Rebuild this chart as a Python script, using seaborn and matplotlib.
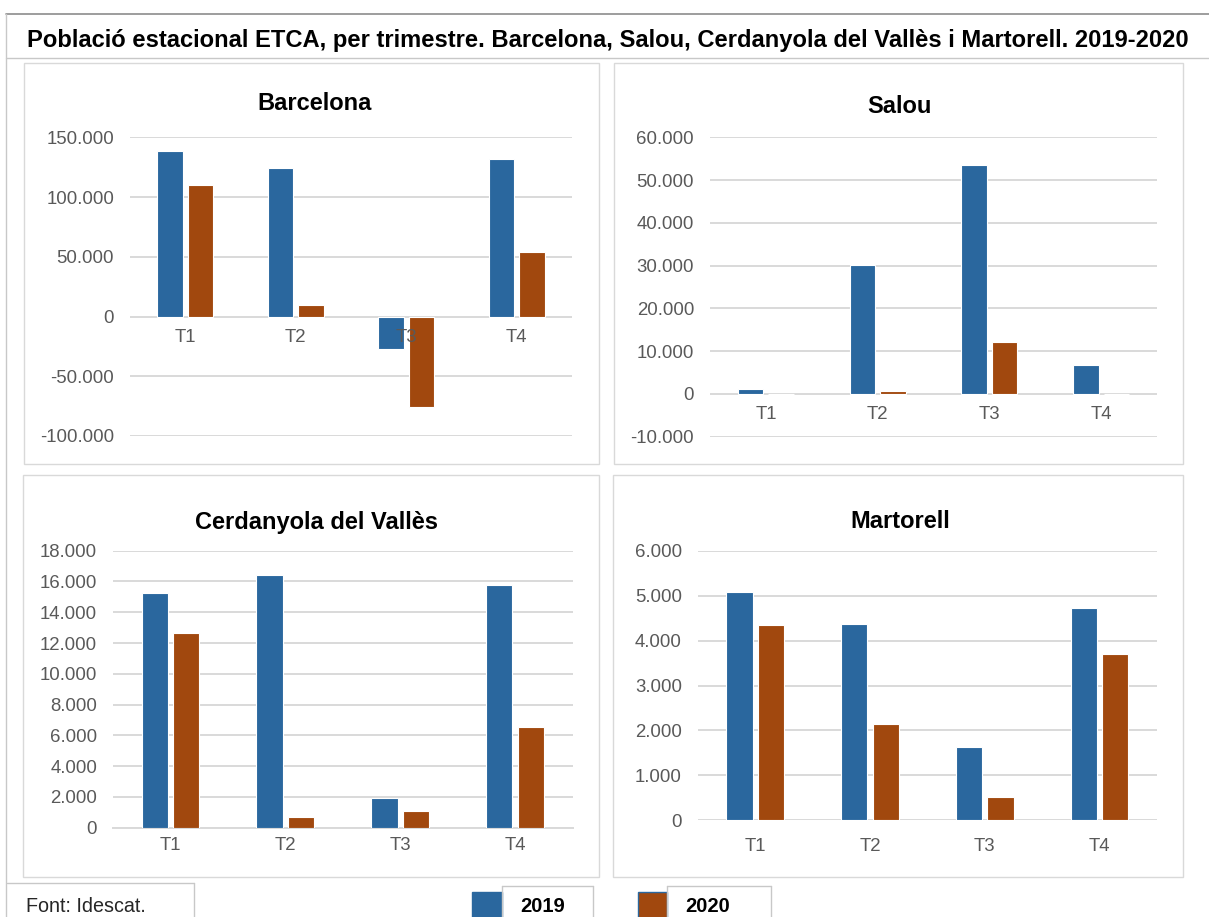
import matplotlib
matplotlib.use("Agg")
import matplotlib.pyplot as plt
import matplotlib.patches as mpatches
import matplotlib.lines as mlines
from matplotlib.ticker import FuncFormatter, FixedLocator
import seaborn as sns
import pandas as pd

# ---------------- data ----------------
trimestres = ["T1", "T2", "T3", "T4"]
anys = ["2019", "2020"]

barcelona_2019 = [138300, 124100, -27000, 131600]
barcelona_2020 = [109700, 10000, -75700, 54000]
salou_2019 = [1200, 30200, 53500, 6800]
salou_2020 = [0, 700, 12200, 0]
cerdanyola_2019 = [15230, 16400, 1900, 15750]
cerdanyola_2020 = [12630, 710, 1100, 6520]
martorell_2019 = [5070, 4360, 1640, 4730]
martorell_2020 = [4340, 2140, 510, 3700]

titol = "Població estacional ETCA, per trimestre. Barcelona, Salou, Cerdanyola del Vallès i Martorell. 2019-2020"
font_text = "Font: Idescat."

BLUE = "#2a679e"
ORANGE = "#a1480e"
GRID = "#d9d9d9"
TICK = "#595959"

sns.set_theme(style="white")
plt.rcParams["font.family"] = ["Liberation Sans", "DejaVu Sans"]

W, H = 1209, 917
fig = plt.figure(figsize=(W / 100, H / 100), dpi=100)


def ax_px(x0, x1, y0, y1):
    return fig.add_axes([x0 / W, 1 - y1 / H, (x1 - x0) / W, (y1 - y0) / H])


def fmt(v, pos):
    return f"{v:,.0f}".replace(",", ".")


def rect_px(x0, y0, x1, y1, color=GRID, lw=1.0):
    r = mpatches.Rectangle((x0 / W, 1 - y1 / H), (x1 - x0) / W, (y1 - y0) / H,
                           transform=fig.transFigure, fill=False,
                           edgecolor=color, linewidth=lw)
    fig.add_artist(r)


def line_px(x0, y0, x1, y1, color=GRID, lw=1.0):
    fig.add_artist(mlines.Line2D([x0 / W, x1 / W], [1 - y0 / H, 1 - y1 / H],
                                 transform=fig.transFigure, color=color, linewidth=lw))


def panel(box, vals19, vals20, ylim, step, title, title_xy, label_pad, boundary_ticks=False):
    ax = ax_px(*box)
    df = pd.DataFrame({
        "trimestre": trimestres * 2,
        "any": [anys[0]] * 4 + [anys[1]] * 4,
        "valor": list(vals19) + list(vals20),
    })
    sns.barplot(data=df, x="trimestre", y="valor", hue="any",
                palette=[BLUE, ORANGE], saturation=1, width=0.55, gap=0.17,
                edgecolor="white", linewidth=0.8, errorbar=None,
                legend=False, ax=ax)
    ax.set_ylim(*ylim)
    ax.set_xlim(-0.5, 3.5)
    ticks = list(range(ylim[0], ylim[1] + 1, step))
    ax.yaxis.set_major_locator(FixedLocator(ticks))
    ax.yaxis.set_major_formatter(FuncFormatter(fmt))
    ax.grid(axis="y", color=GRID, linewidth=1.4)
    ax.grid(axis="x", visible=False)
    ax.set_axisbelow(True)
    ax.xaxis.set_zorder(5)
    for s in ["top", "right", "left"]:
        ax.spines[s].set_visible(False)
    ax.spines["bottom"].set_position(("data", 0))
    if boundary_ticks:
        ax.spines["bottom"].set_visible(True)
        ax.spines["bottom"].set_color(GRID)
        ax.spines["bottom"].set_linewidth(1.4)
        ax.spines["bottom"].set_zorder(0.6)
        ax.set_xticks([-0.5, 0.5, 1.5, 2.5, 3.5], minor=True)
        ax.tick_params(axis="x", which="minor", length=4, color=GRID, width=1.4,
                       direction="out")
    else:
        ax.spines["bottom"].set_visible(False)
    ax.tick_params(axis="x", which="major", length=0, pad=label_pad,
                   labelsize=13.4, labelcolor=TICK)
    ax.tick_params(axis="y", length=0, pad=11.5, labelsize=13.4, labelcolor=TICK)
    ax.set_xlabel("")
    ax.set_ylabel("")
    ax.patch.set_alpha(0)
    fig.text(title_xy[0] / W, 1 - title_xy[1] / H, title, ha="center", va="baseline",
             fontsize=17, fontweight="bold", color="black")
    return ax


# outer frame / title bar
line_px(6, 14, W, 14, color="#8c8c8c", lw=1.2)
line_px(6, 58, W, 58, color="#c8c8c8", lw=1.0)
line_px(6, 14, 6, H, color="#c8c8c8", lw=1.0)
fig.text(27 / W, 1 - 47 / H, titol, ha="left", va="baseline",
         fontsize=17.1, fontweight="bold", color="black")

# panel frames
rect_px(24, 63, 599, 464)
rect_px(614, 63, 1183, 464)
rect_px(23, 475, 599, 877)
rect_px(613, 475, 1183, 877)

panel((130, 572, 137.3, 436.0), barcelona_2019, barcelona_2020, (-100000, 150000), 50000,
      "Barcelona", (315, 110.5), 9)
panel((710, 1157, 137.3, 436.7), salou_2019, salou_2020, (-10000, 60000), 10000,
      "Salou", (899, 113), 9)
panel((113, 572.6, 550.7, 827.7), cerdanyola_2019, cerdanyola_2020, (0, 18000), 2000,
      "Cerdanyola del Vallès", (317, 529), 6.5, boundary_ticks=True)
panel((697.8, 1157, 550.7, 820.3), martorell_2019, martorell_2020, (0, 6000), 1000,
      "Martorell", (900, 528), 13)

# source box
line_px(7, 883, 194, 883, color="#c8c8c8")
line_px(194, 883, 194, H, color="#c8c8c8")
fig.text(26 / W, 1 - 912 / H, font_text, ha="left", va="baseline",
         fontsize=14.2, color="#262626")

# legend
for (sx, bx0, bx1, color, lab) in [(472, 502, 593, BLUE, anys[0]),
                                   (638, 667, 771, ORANGE, anys[1])]:
    fig.add_artist(mpatches.Rectangle((sx / W, 1 - 920 / H), (bx0 - sx) / W, (920 - 892) / H,
                                      transform=fig.transFigure, facecolor=color,
                                      edgecolor=BLUE, linewidth=1.0))
    line_px(bx0, 886, bx1, 886, color="#c8c8c8")
    line_px(bx1, 886, bx1, H, color="#c8c8c8")
    line_px(bx0, 886, bx0, H, color="#c8c8c8")
    fig.text((bx0 + 18) / W, 1 - 916.5 / H, lab, ha="left", va="bottom",
             fontsize=14.5, fontweight="bold", color="black")

fig.savefig("out.png", dpi=100, facecolor="white")
